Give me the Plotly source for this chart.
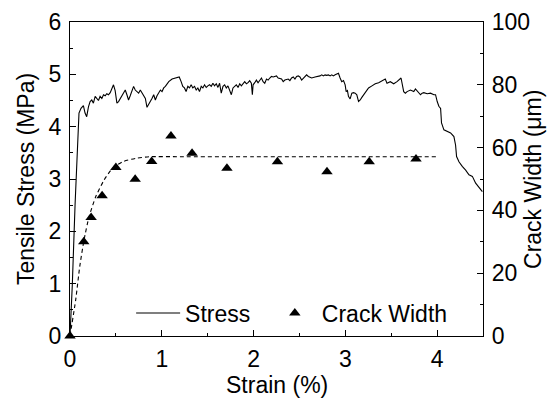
import plotly.graph_objects as go

# Tensile stress-strain record (strain in %, stress in MPa)
strain_pct = [
    0, 0.025, 0.055, 0.084, 0.091, 0.098, 0.120, 0.146, 0.164, 0.182,
    0.201, 0.219, 0.237, 0.255, 0.274, 0.292, 0.310, 0.328, 0.347, 0.365,
    0.383, 0.401, 0.419, 0.438, 0.456, 0.474, 0.492, 0.500, 0.511, 0.529,
    0.547, 0.565, 0.583, 0.602, 0.620, 0.638, 0.656, 0.675, 0.693, 0.711,
    0.729, 0.748, 0.766, 0.784, 0.802, 0.821, 0.839, 0.857, 0.875, 0.893,
    0.912, 0.930, 0.948, 0.966, 0.985, 1.003, 1.021, 1.039, 1.058, 1.076,
    1.112, 1.149, 1.190, 1.211, 1.229, 1.247, 1.265, 1.284, 1.302, 1.320,
    1.338, 1.357, 1.375, 1.393, 1.411, 1.430, 1.448, 1.466, 1.484, 1.502,
    1.521, 1.539, 1.557, 1.575, 1.594, 1.612, 1.630, 1.648, 1.667, 1.685,
    1.703, 1.721, 1.739, 1.758, 1.776, 1.794, 1.812, 1.831, 1.849, 1.867,
    1.885, 1.904, 1.922, 1.940, 1.958, 1.976, 1.987, 1.995, 2.013, 2.031,
    2.049, 2.068, 2.086, 2.104, 2.122, 2.141, 2.159, 2.177, 2.195, 2.214,
    2.250, 2.268, 2.305, 2.323, 2.341, 2.378, 2.396, 2.414, 2.433, 2.451,
    2.469, 2.487, 2.505, 2.524, 2.542, 2.560, 2.578, 2.597, 2.615, 2.633,
    2.670, 2.706, 2.724, 2.743, 2.761, 2.779, 2.797, 2.816, 2.834, 2.852,
    2.870, 2.889, 2.907, 2.925, 2.943, 2.961, 2.980, 2.998, 3.009, 3.023,
    3.034, 3.052, 3.071, 3.089, 3.107, 3.125, 3.144, 3.162, 3.180, 3.198,
    3.217, 3.235, 3.253, 3.290, 3.326, 3.363, 3.399, 3.435, 3.454, 3.490,
    3.527, 3.563, 3.607, 3.618, 3.636, 3.654, 3.673, 3.709, 3.746, 3.764,
    3.782, 3.819, 3.837, 3.855, 3.892, 3.928, 3.965, 3.983, 4.001, 4.019,
    4.038, 4.048, 4.074, 4.110, 4.147, 4.183, 4.201, 4.212, 4.238, 4.274,
    4.311, 4.347, 4.384, 4.420, 4.457, 4.493,
]
stress_mpa = [
    0, 0.97, 2.50, 3.78, 4.13, 4.26, 4.35, 4.40, 4.26, 4.19,
    4.38, 4.48, 4.51, 4.45, 4.58, 4.54, 4.50, 4.58, 4.54, 4.61,
    4.59, 4.63, 4.61, 4.65, 4.74, 4.80, 4.69, 4.58, 4.45, 4.48,
    4.54, 4.58, 4.64, 4.70, 4.61, 4.51, 4.59, 4.67, 4.77, 4.70,
    4.67, 4.64, 4.70, 4.64, 4.61, 4.54, 4.37, 4.42, 4.48, 4.54,
    4.61, 4.51, 4.59, 4.65, 4.70, 4.67, 4.74, 4.77, 4.83, 4.86,
    4.91, 4.93, 4.95, 4.86, 4.77, 4.74, 4.67, 4.77, 4.74, 4.80,
    4.74, 4.77, 4.70, 4.74, 4.67, 4.77, 4.74, 4.80, 4.75, 4.78,
    4.80, 4.77, 4.83, 4.78, 4.82, 4.75, 4.83, 4.64, 4.77, 4.80,
    4.74, 4.78, 4.70, 4.61, 4.74, 4.77, 4.80, 4.75, 4.82, 4.78,
    4.83, 4.86, 4.82, 4.84, 4.88, 4.83, 4.61, 4.80, 4.84, 4.89,
    4.84, 4.89, 4.93, 4.86, 4.83, 4.91, 4.89, 4.93, 4.96, 4.95,
    4.97, 4.93, 4.91, 4.86, 4.89, 4.91, 4.88, 4.93, 4.95, 4.91,
    4.96, 4.97, 4.95, 4.89, 4.93, 4.97, 4.99, 4.96, 4.95, 4.93,
    4.95, 4.96, 4.97, 4.99, 4.97, 4.99, 4.98, 4.99, 4.97, 4.99,
    4.97, 4.99, 5.01, 5.02, 4.93, 4.86, 4.88, 4.80, 4.67, 4.69,
    4.58, 4.53, 4.64, 4.65, 4.64, 4.61, 4.48, 4.51, 4.56, 4.61,
    4.65, 4.69, 4.74, 4.78, 4.82, 4.84, 4.88, 4.91, 4.83, 4.86,
    4.82, 4.86, 4.93, 4.80, 4.67, 4.64, 4.67, 4.70, 4.67, 4.72,
    4.69, 4.61, 4.64, 4.65, 4.63, 4.64, 4.61, 4.61, 4.48, 4.39,
    4.35, 4.07, 3.94, 3.91, 3.88, 3.81, 3.65, 3.43, 3.33, 3.24,
    3.17, 3.08, 3.05, 2.92, 2.84, 2.76,
]

# Measured crack widths (strain in %, width in micrometres)
crack_strain_pct = [0, 0.15, 0.23, 0.35, 0.50, 0.71, 0.89, 1.10, 1.33, 1.71, 2.26, 2.80, 3.26, 3.77]
crack_width_um = [0, 30.0, 37.7, 44.7, 53.7, 49.9, 55.6, 63.7, 58.2, 53.4, 55.5, 52.3, 55.5, 56.4]

# Trend curve through the crack widths
trend_strain_pct = [0, 0.062, 0.106, 0.153, 0.208, 0.281, 0.372, 0.463, 0.573, 0.718, 0.864, 1.2, 2.0, 3.0, 4.0]
trend_width_um = [0, 11.5, 22.1, 30.6, 38.0, 44.4, 49.7, 53.4, 55.5, 56.6, 57.1, 57.1, 57.1, 57.1, 57.1]

FONT = "Liberation Sans, Arial, sans-serif"
FS = 23

fig = go.Figure()

fig.add_trace(go.Scatter(
    x=strain_pct, y=stress_mpa, mode="lines", name="Stress",
    line=dict(color="black", width=1.1), legend="legend",
))
fig.add_trace(go.Scatter(
    x=trend_strain_pct, y=trend_width_um, mode="lines", yaxis="y2",
    line=dict(color="black", width=1.1, dash="4px,3px", shape="spline", smoothing=0.6),
    showlegend=False,
))
fig.add_trace(go.Scatter(
    x=crack_strain_pct, y=crack_width_um, mode="markers", yaxis="y2",
    name="Crack Width", legend="legend2", cliponaxis=False,
    marker=dict(symbol="triangle-up", size=10, color="black"),
))

axis_common = dict(
    showgrid=False, zeroline=False, linecolor="black", linewidth=1.3,
    ticks="inside", ticklen=6, tickwidth=1.2, tickcolor="black",
    tickfont=dict(family=FONT, size=FS, color="black"), automargin=False,
)

title_font = dict(family=FONT, size=FS, color="black")

fig.update_layout(
    width=549, height=399,
    margin=dict(l=70, r=66, t=22, b=63),
    paper_bgcolor="white", plot_bgcolor="white",
    font=dict(family=FONT, size=FS, color="black"),
    xaxis=dict(
        range=[0, 4.5], tick0=0, dtick=1, mirror=True, ticklabelstandoff=2,
        minor=dict(dtick=0.5, ticks="inside", ticklen=3, tickcolor="black", tickwidth=1.2),
        **axis_common,
    ),
    yaxis=dict(
        range=[0, 6], tick0=0, dtick=1, mirror=True, ticklabelstandoff=3,
        minor=dict(dtick=0.5, ticks="inside", ticklen=3, tickcolor="black", tickwidth=1.2),
        **axis_common,
    ),
    yaxis2=dict(
        range=[0, 100], tick0=0, dtick=20, overlaying="y", side="right",
        ticklabelstandoff=3,
        minor=dict(dtick=10, ticks="inside", ticklen=3, tickcolor="black", tickwidth=1.2),
        **axis_common,
    ),
    legend=dict(
        x=0.148, y=0.073, xanchor="left", yanchor="middle", orientation="h",
        bgcolor="rgba(0,0,0,0)", itemwidth=44, font=dict(family=FONT, size=FS),
    ),
    legend2=dict(
        x=0.479, y=0.073, xanchor="left", yanchor="middle", orientation="h",
        bgcolor="rgba(0,0,0,0)", itemwidth=44, font=dict(family=FONT, size=FS),
    ),
    annotations=[
        dict(text="Strain (%)", xref="paper", yref="paper", x=0.5, y=-0.156,
             xanchor="center", yanchor="middle", showarrow=False, font=title_font),
        dict(text="Tensile Stress (MPa)", xref="paper", yref="paper", x=-0.1065, y=0.5,
             xanchor="center", yanchor="middle", textangle=-90, showarrow=False, font=title_font),
        dict(text="Crack Width (μm)", xref="paper", yref="paper", x=1.121, y=0.5,
             xanchor="center", yanchor="middle", textangle=-90, showarrow=False, font=title_font),
    ],
)

fig.write_html("out.html")
